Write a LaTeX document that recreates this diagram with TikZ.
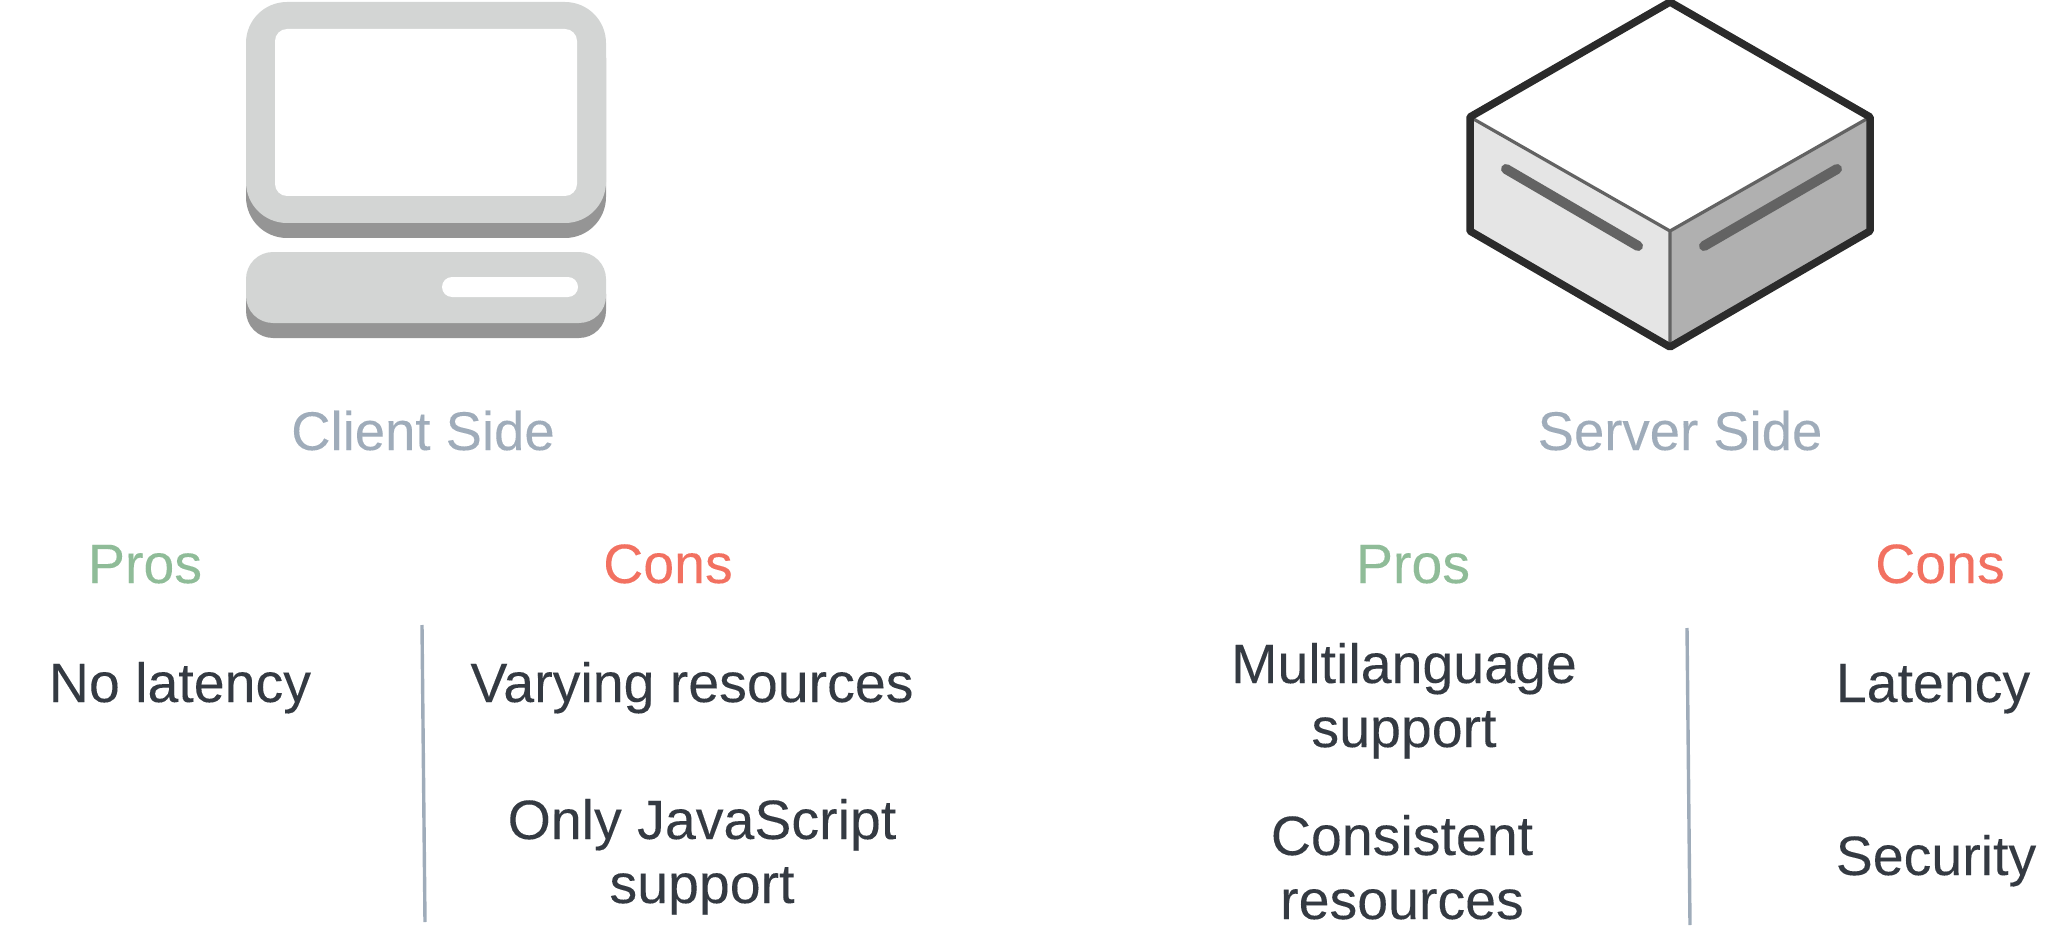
\documentclass[tikz,border=0pt]{standalone}
\usepackage{fontspec}
\setmainfont{Liberation Sans}[FakeBold=0.12]
\usepackage{tikz}
\usetikzlibrary{positioning,calc}

\definecolor{labelgrey}{HTML}{9FACBA}
\definecolor{prosgreen}{HTML}{8FBC98}
\definecolor{consred}{HTML}{F27161}
\definecolor{itemdark}{HTML}{343A42}
\definecolor{bodylight}{HTML}{D3D5D4}
\definecolor{bodyshade}{HTML}{959595}
\definecolor{edgedark}{HTML}{2B2B2B}
\definecolor{edgemid}{HTML}{636363}
\definecolor{faceleft}{HTML}{E5E5E5}
\definecolor{faceright}{HTML}{B0B0B0}

\tikzset{
	txt/.style={inner sep=0pt,anchor=base,align=center,font=\fontsize{55.5}{63}\selectfont},
	side/.style={txt,text=labelgrey,font=\fontsize{54.5}{63}\selectfont},
	pros/.style={txt,text=prosgreen},
	cons/.style={txt,text=consred},
	item/.style={txt,text=itemdark},
	divider/.style={draw=labelgrey,line width=3.4pt}
}

\begin{document}
\begin{tikzpicture}[x=1pt,y=-1pt]
	\useasboundingbox (0,0) rectangle (2072,936);

	% client
	\fill[bodyshade,rounded corners=41pt] (246,17) rectangle (606,238);
	\fill[bodylight,rounded corners=41pt] (246,2) rectangle (606,223);
	\fill[white,rounded corners=12pt] (275,29) rectangle (577,196);
	\fill[bodyshade,rounded corners=27pt] (246,267) rectangle (606,338);
	\fill[bodylight,rounded corners=27pt] (246,252) rectangle (606,323);
	\fill[white,rounded corners=10pt] (442,277) rectangle (578,297);

	% server
	\fill[white] (1670,2) -- (1870,117) -- (1670,231) -- (1470,117) -- cycle;
	\fill[faceleft] (1470,117) -- (1670,231) -- (1670,347) -- (1470,231) -- cycle;
	\fill[faceright] (1870,117) -- (1670,231) -- (1670,347) -- (1870,231) -- cycle;
	\draw[edgemid,line width=3.2pt] (1470,117) -- (1670,231) -- (1870,117) (1670,231) -- (1670,347);
	\draw[edgemid,line width=10pt,line cap=round] (1506,169) -- (1638,246);
	\draw[edgemid,line width=10pt,line cap=round] (1704,246) -- (1837,169);
	\draw[edgedark,line width=7.5pt,line join=round] (1670,2) -- (1870,117) -- (1870,231) -- (1670,347) -- (1470,231) -- (1470,117) -- cycle;

	% client texts
	\node[side] (clientside) at (423,450) {Client Side};
	\node[pros] (clientpros) at (145,583) {Pros};
	\node[cons] (clientcons) at (668,583) {Cons};
	\node[item] (nolatency) at (180,702) {No latency};
	\node[item] (varying) at (692,702) {Varying resources};
	\node[item] (onlyjs) at (702,839) {Only JavaScript};
	\node[item] (onlyjs2) at (702,903) {support};

	% server texts
	\node[side] (serverside) at (1680,450) {Server Side};
	\node[pros] (serverpros) at (1413,583) {Pros};
	\node[cons] (servercons) at (1940,583) {Cons};
	\node[item] (multi) at (1404,683) {Multilanguage};
	\node[item] (multi2) at (1404,747) {support};
	\node[item] (consistent) at (1402,855) {Consistent};
	\node[item] (consistent2) at (1402,919) {resources};
	\node[item] (latency) at (1933,702) {Latency};
	\node[item] (security) at (1936,875) {Security};

	% dividers
	\coordinate (clienttop) at (422,625);
	\coordinate (clientbot) at (425,922);
	\coordinate (servertop) at (1687,628);
	\coordinate (serverbot) at (1690,925);
	\draw[divider] (clienttop) -- (clientbot);
	\draw[divider] (servertop) -- (serverbot);
\end{tikzpicture}
\end{document}
